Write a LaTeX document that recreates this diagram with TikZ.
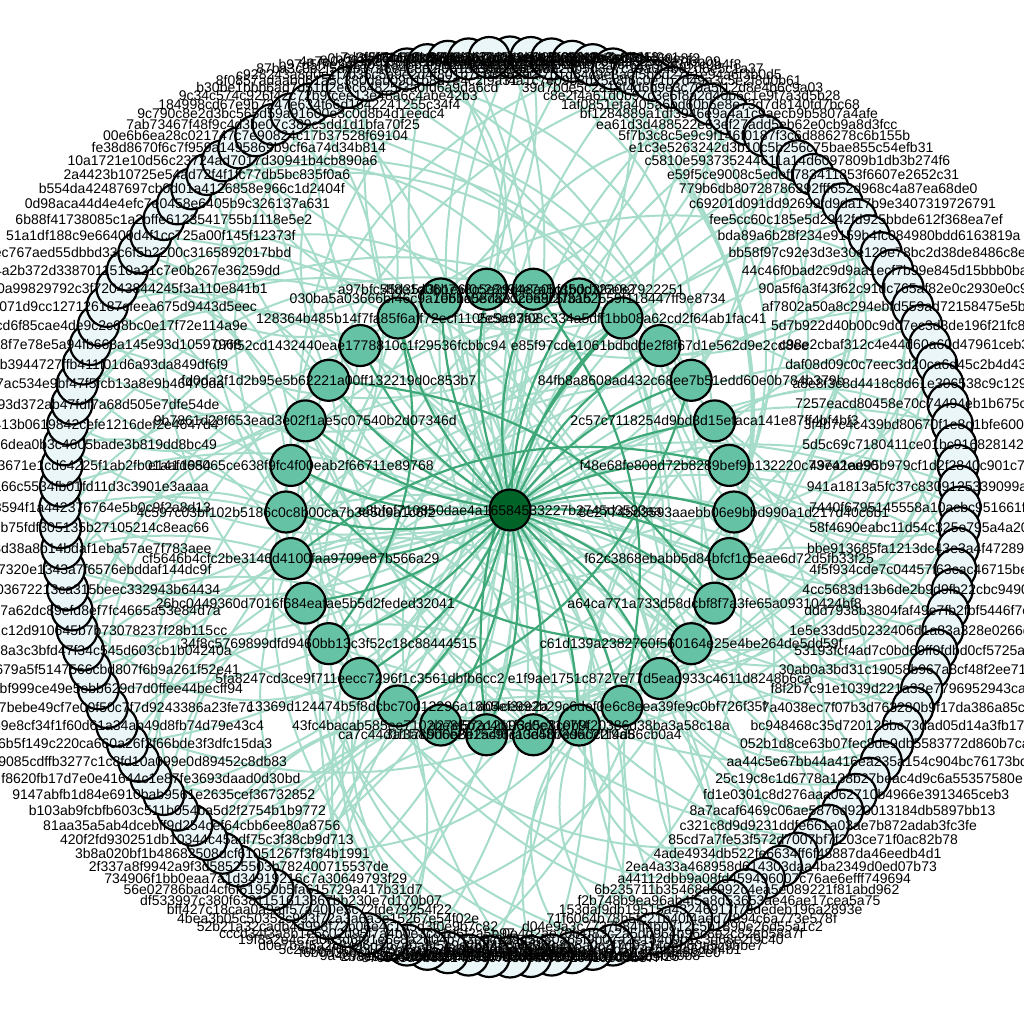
\documentclass[tikz,border=0pt]{standalone}
\usepackage{fontspec}
\setmainfont{Liberation Sans}
\definecolor{outerfill}{HTML}{EBF6F9}
\definecolor{innerfill}{HTML}{66C2A4}
\definecolor{hubfill}{HTML}{006428}
\definecolor{lightedge}{HTML}{A6DCCA}
\definecolor{darkedge}{HTML}{3FA878}
\pgfdeclarelayer{background}
\pgfdeclarelayer{foreground}
\pgfsetlayers{background,main,foreground}
\tikzset{
  hash/.style={circle,draw=black,line width=2.2pt,minimum size=41pt,inner sep=0pt},
  hashtext/.style={font=\fontsize{14}{16}\selectfont,inner sep=0pt,text=black},
  lightlink/.style={draw=lightedge,line width=2pt},
  darklink/.style={draw=darkedge,line width=2.2pt}
}
\begin{document}
\begin{tikzpicture}[x=1pt,y=-1pt]
   \useasboundingbox (0,0) rectangle (1024,1024);
   \begin{pgfonlayer}{background}
   \fill[white] (0,0) rectangle (1024,1024);
   \end{pgfonlayer}

   \node[hash,fill=hubfill] (hub) at (510,510) {};
   \begin{pgfonlayer}{foreground}
   \node[hashtext] (hubtext) at (hub) {e8bfef710850dae4a16584533227b2745d3593aa};
   \end{pgfonlayer}

   \foreach \hashid [count=\j from 0] in {8e27745d3593aaebb06e9bbd990a1d217d40c6b1,f48e68fe808d72b8289bef9b132220c73742ed90,2c57c7118254d9bd3d15efaca141e87ff4bf4bf3,84fb8a8608ad432c68ee7b51edd60e0b784b379b,e85f97cde1061bdbdde2f8f67d1e562d9e2cd8ee,2e5a93f08c334a5dff1bb08a62cd2f64ab1fac41,70b1c0e7a3d2e68c5f3ab2559f118447ff9e8734,4f8e1d06b7a3c5e29d48a0bf35dc1220e7922251,a97bfc55d35a3b1e6f0c28d94e7a5c1b0d3f6e82,030ba5a03666bf46c9a1e6ba58d8e3c0a9f27b15,128364b485b14f7fa85f6aff72ecf1105c9cc7a2,07ff52cd1432440eae1778810c1f29536fcbbc94,fd0da2f1d2b95e5b62221a00ff132219d0c853b7,9b7861d28f653ead3e02f1ae5c07540b2d07346d,e141d68065ce638f9fc4f00eab2f66711e89768,4c597c03bf102b5186c0c8b00ca7b3e5d9a1c6f2,cf5646b4cfc2be3146d4100faa9709e87b566a29,26bc0449360d7016f684eafae5b5d2feded32041,34f8c5769899dfd9460bb13c3f52c18c88444515,5fa8247cd3ce9f711eecc7296f1c3561dbfb6cc2,13369d124474b5f8dcbc70d12296a18b5ef3ce2a,43fc4bacab585ee7102be8f57a12b96d0c31e7f4,ca7c44d1f3a8b06e2d15c9f7a0e48b3d6c2f19a5,3a1f7c9d0b8e2a4f6c13d5b7e9a0c2f4d86cb0a4,a27e5b2c4d1f3a5e8c0b9f20386d38ba3a58c18a,a04ce992b29c6def0e6c8eea39fe9c0bf726f35f,e1f9ae1751c8727e77d5ead933c4611d8248b6ca,c61d139a2382760f560164e25e4be264de5dd59f,a64ca771a733d58dcbf8f7a3fe65a09310424bf8,f62c3868ebabb5d84bfcf1c5eae6d72d5fb33f25} {
     \pgfmathsetmacro{\ang}{\j*12}
     \node[hash,fill=innerfill] (i\j) at ({510+224*cos(\ang)},{512-224*sin(\ang)}) {};
     \begin{pgfonlayer}{foreground}
     \node[hashtext] (it\j) at (i\j) {\hashid};
     \end{pgfonlayer}
   }

   \foreach \hashid [count=\k from 0] in {d5f71a08c3e94b26f7d0a1e5c8b39f42e6a07d13,6c1e0b9f84a2d37e5c9b01f6a8d42e7c3b95f0a1,a83f5d2c07e1b94a6d8c3f05e2b7a19d4c60e8f2,1f9c47e0a2b8d53c6e1f0a97b4d28c5e3a7f6b09,e2a60d8b5c3f19e7a4d0c2b8f61e95a3d7c0b4f8,7b3d91c4e0f8a26b5d3e7c19a0f4b82d6e5c1a37,0c5e8a2f7b1d64c9e3a0f5b8d27c1e94a6f3b0d5,f4a1c7e09b3d25a8f6c0e1b7d49a3c5e2f8d0b61,39d7b0e5c2a18f4d6b9e3c70a5f12d8e4b6c9a03,c8e2f4a61d0b97c3e5f8a2d40b6c1e9f7a3d5b28,1af0851efa405a6bd60b6e8e73d7d8140fd7bc68,bf1284889a1df3946e9a4a1c9aecb9b5807a4afe,ea61d3d488522e63ef27add5eb62e0cb9a8d3fcc,5f7b3c8c5e9c9f146f0187f3c6d886278c6b155b,e1c3e5263242d3b10c5b256c75bae855c54efb31,c5810e593735244611a14d6097809b1db3b274f6,e59f5ce9008c5edeff783411853f6607e2652c31,779b6db80728786392fff652d968c4a87ea68de0,c69201d091dd92699fd9da17b9e3407319726791,fee5cc60c185e5d2942fd925bbde612f368ea7ef,bda89a6b28f234e9159b4fc084980bdd6163819a,bb58f97c92e3d3e30e129e78bc2d38de8486c8e1,44c46f0bad2c9d9aa1ecf7b99e845d15bbb0ba51,90a5f6a3f43f62c91dc765af82e0c2930e0c9d4f,af7802a50a8c294ebfd559ad72158475e5b2e71c,5d7b922d40b00c9dd7ec3d3de196f21fc8a0e27b,c98e2cbaf312c4e44d60a60d47961ceb3f9a81d0,daf08d09c0c7eec3d20ca6d45c2b4d43e7a0c6b2,a8e8f3c8d4418c8d61e306538c9c1295d7e0a3f4,7257eacd80458e70c74494eb1b675c04e3d9a82f,3f4b7c4c439bd80670f1e8d1bfe6002b9d1e7c4a,5d5c69c7180411ce01bc916828142e0a7c35b9d1,49ea1ae95b979cf1d2f2840c901c7e3b2a5d6f08,941a1813a5fc37c8309125339099a4c1e6b0d523,7440f6795145558a10acbc951661f2d08e3a7c41,58f4690eabc11d54c325e795a4a20c9e1b7f5d38,bbe913685fa1213dc43e3a4f472896d0e5b2a1c7,4f5f934cde7c04457f63cac46715be8a2093d1f6,4cc5683d13b6de2b9d9fb22cbc9490a7f3e61d5c,ddd7938b3804faf49e7fb2fbf5446f7c2e9a0b18,1e5e33dd50232406d1a83a328e0266d94b7c0f51,53193fcf4ad7c0bd69ff0fdbd0cf5725ae84b10c,30ab0a3bd31c19058b967a8cf48f2ee71d6c05a9,f8f2b7c91e1039d221a33e7796952943ca0b5e18,7a4038ec7f07b3d763280b9f17da386a85c21e40,bc948468c35d720126bc73dad05d14a3fb179e02,052b1d8ce63b07fec8de9db5583772d860b7ca41,aa44c5e67bb44a416ea235a154c904bc76173bd5,25c19c8c1d6778a138b27beac4d9c6a55357580e,fd1e0301c8d276aaa062710b4966e3913465ceb3,8a7acaf6469c06ae5876d920013184db5897bb13,c321c8d9d9231ddfe661a03ae7b872adab3fc3fe,85cd7a7fe53f572d7007bf7f203ce71f0ac82b78,4ade4934db522fe6634ff6f48887da46eedb4d1,2ea4a33a468958d614303daa4ba2349d0ed07b73,a44112dbb9a08fd459496007c76ae6efff749694,6b235711b35468dc992c4ea5e089221f81abd962,f2b748b9ea96ab4f5a8d53653ae46ae17cea5a75,153daf9db19515a43246917f78dedeb196a2893e,71f6064b78b5fc21b40f4aed7f894c6a773e578f,d04e9a3c7737b84ff4b0812c5b1890e26d55a1c2,0e4d2ae70b1f83c2a5db964b96c8e2c82eb58a7f,b7e51c3d80a65f9b07a2e154d9b1c3d68e2f9c40,3a9f27c06d18e4b5a0c2f7d9314e8b60a5c9bbe7,5e1c8a0f3d7b29e6c4a1f08d5b3e7c92a6d0f4b1,b2d94f6a0e3c17b8d5f2a9c06e4b1d73f8a5c2e0,8f0a3c5e7d1b94f2c6e08a3d5b7f1c9e2a4d60b8,4d6b2e9a1f7c03e8b5d4a6c2f90e1b7d3a8c5f26,e7c3a5d0b8f2146e9c7a3d5b0f8e2c41a6d9b37f,2b8e0f6c4a9d13b7e5c2f80a6d4b9e1c7f3a5d02,9a4c7e1f3b5d80a2c6e9f4b17d3a5c8e0f2b6d49,f6b0d3a8c1e5927f4b0d6a3c8e15f9b2d7a4c0e3,5c2a8e4f0d7b13c9a6e2f5d08b4c7a1e3f9d6b50,d0e7b3f5a2c8496d1b7e0a3f5c9d2b84e6a1f7c3,19f852e4c7a0b3d6f91e5c8a2d04b7f3e6c1a9d5,cccd34f3a8b1e6c02d95f7a4b0e3c81d6f2a5b97,52b21a32cadb4d998f72b06e4c1a5d3f0e9b7c82,4bea3b05c50352c993f72a3a6a3e15267e54f02e,bff427c18caa0a9aff57a400e3c72fde79254f22,df533997c380f6381151613367bb230e7d170b07,56e02786bad4cf6f61950b5fa615729a417b31d7,734906f1bb0eaa7a1d34919216c7a30649793f29,2f337a8f9942a9f3d58525503b782400715537de,3b8a020bf1b48682508dcf61051267f3f84b1991,420f2fd930251db10344c45adf75c3f38cb9d713,81aa35a5ab4dcebff9d254cef64cbb6ee80a8756,b103ab9fcbfb603c511b054ba5d2f2754b1b9772,9147abfb1d84e6910bab9561e2635cef36732852,f8620fb17d7e0e41644c1e87fe3693daad0d30bd,49085cdffb3277c1c8fd10a099e0d89452c8db83,0e6b5f149c220ca660a26f2f66bde3f3dfc15da3,2d159e8cf34f1f60d61a34ab49d8fb74d79e43c4,3a1c07bebe49cf7e00f50c7f7d9243386a23fe7c,c84a2ebf999ce49e5ebb629d7d0ffee44becff94,9e0d7a3679a5f5147566cbd807f6b9a261f52e41,f02c5d9e18a3c3bfd47f34c545d603cb1b04240a,6e4b0a8f31c12d910645b7b73078237f28b115cc,d5c3e9201b7a62dc89efd8ef7fc4665a53e84d7a,1f8b0e7c2ad03672213ca315beec332943b64434,b9c04e2f1a57320e1343a7f6576ebddaf144dc9f,e06f5c2ab913d38a8b14bdaf1eba57ae7f783aee,4c2d91e08af7b75fdf305135b27105214c8eac66,a3e0d2c1b758594f1a442376764e5b0c9f2a8d13,0b7f3e2d91ca66c5534fb01fd11d3c3901e3aaaa,c5a2e9b07d13671e1cd64225f1ab2fb01aaf1954,9f1e04d8a5c26dea0b3c4605bade3b819dd8bc49,7ad2c59e0b413b0619842cefe1216def2e4647d4,2e8c1f06b793d372ab47fdf7a68d505e7dfe54de,5b9d03e1f7ac534e9bf47f5fcb13a8e9b46470da,e0c17a52b3944727ffb411f01d6a93da849df6f9,3d6b1c0a8f7e78e5a94fb663a145e93d10597968,a0b529cd6f85cae4de9c2c68bc0e17f72e114a9e,c9e13f071d9cc127126187cfeea675d9443d5eec,e7d50a99829792c3f72043844245f3a110e841b1,18f4a2b372d3387011510a21c7e0b267e36259dd,0ec767aed55dbbd33c6f5b2200c3165892017bbd,51a1df188c9e66400d4f1cc725a00f145f12373f,6b88f41738085c1a2bffe6123541755b1118e5e2,0d98aca44d4e4efc7e0458e6405b9c326137a631,b554da42487697cb0d01a4126858e966c1d2404f,2a4423b10725e54ad72f4f1fc77db5bc835f0a6,10a1721e10d56c23724ad7017d30941b4cb890a6,fe38d8670f6c7f959a1495869b9cf6a74d34b814,00e6b6ea28c021747c7e90824c17b37528f69104,7ab73467f48f9c4d3be07c389c5dd1d1bfa70f25,9c790c8e2d3bc565d59a91600e3c0d8b4d1eedc4,184998cd67e9b7247e634f66d1642241255c34f4,9c34c574c926f42c72b9fcee13e48a6c4abe42b3,b30be1bbb6ad7d51b2eec64825f3a0fd6a9da6cd,8f0857adaabd61a5c380d8d09d1b8d7e4c2f9a31,c928243a8d0e1f7b36c5a9e2d4f801b7c63e5a90,87ba3c0e2f5d9b17a6e4c8d2f0b13a95e7c6d402,b97d5f7e2c1a0948d6b3f5e2a7c9d10b84e6f3c5,4a7e0c3f9b2d58a1e6c4f07b3d9e2a5c8f1b6d04,e0b6d2a9c4f71e3b8d5a0c6f2e9b14d7a3c8f5e2,7d3f8b1e5a0c92d6f4b7e3a1c8d05f9b2e6a4c73} {
     \pgfmathsetmacro{\ang}{90-\k*(360/136)}
     \node[hash,fill=outerfill] (o\k) at ({510+450*cos(\ang)},{507-450*sin(\ang)}) {};
     \begin{pgfonlayer}{foreground}
     \node[hashtext] (ot\k) at (o\k) {\hashid};
     \end{pgfonlayer}
   }

   \begin{pgfonlayer}{background}
   \pgfmathsetseed{2718}
   \foreach \k in {0,...,135} {
     \pgfmathtruncatemacro{\ta}{random(0,29)}
     \draw[lightlink] (o\k) to[bend left=35] (i\ta);
   }
   \foreach \k in {1,4,...,133} {
     \pgfmathtruncatemacro{\tb}{random(0,29)}
     \draw[lightlink] (o\k) to[bend right=32] (i\tb);
   }
   \foreach \k in {0,3,...,135}
     \draw[lightlink] (o\k) to[bend right=22] (hub);
   \foreach \j in {0,...,29}
     \draw[darklink] (hub) to[bend left=14] (i\j);
   \foreach \a/\b in {3/20,7/25,12/28,16/1,22/5,10/18,27/14}
     \draw[darklink] (i\a) to[bend left=24] (i\b);
   \end{pgfonlayer}
\end{tikzpicture}
\end{document}
